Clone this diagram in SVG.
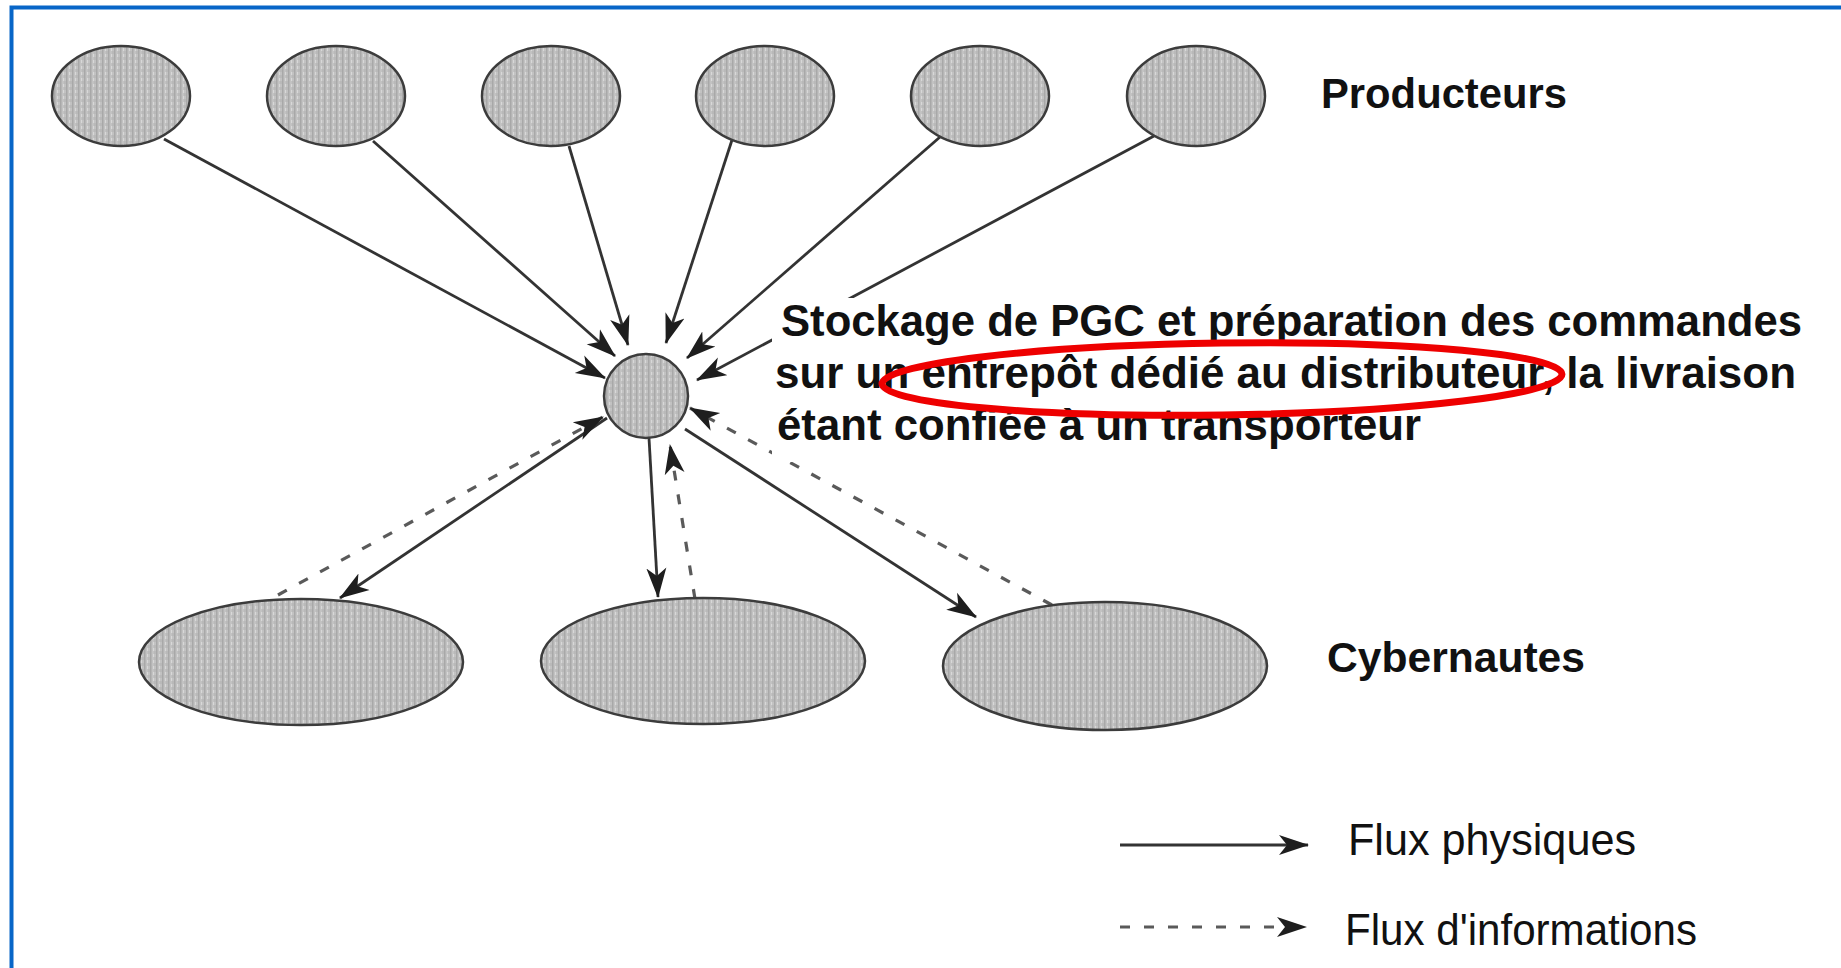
<svg xmlns="http://www.w3.org/2000/svg" width="1841" height="968" viewBox="0 0 1841 968">
  <defs>
    <pattern id="tex" width="6" height="6" patternUnits="userSpaceOnUse">
      <rect width="6" height="6" fill="#c2c2c2"/>
      <rect x="0" y="0" width="1.5" height="6" fill="#a8a8a8"/>
      <rect x="3" y="0" width="1" height="3" fill="#d8d8d8"/>
      <rect x="4.5" y="3" width="1" height="3" fill="#b0b0b0"/>
    </pattern>
    <marker id="arr" viewBox="0 0 30 22" markerWidth="30" markerHeight="22" refX="29" refY="11" orient="auto" markerUnits="userSpaceOnUse">
      <path d="M0,1 L30,11 L0,21 L8,11 Z" fill="#1e1e1e"/>
    </marker>
  </defs>
  <style>
    .node { fill: url(#tex); stroke: #3c3c3c; stroke-width: 2.5; }
    .phys { fill: none; stroke: #333; stroke-width: 2.8; marker-end: url(#arr); }
    .info { fill: none; stroke: #5a5a5a; stroke-width: 3.2; stroke-dasharray: 10 14; marker-end: url(#arr); }
    .lbl { font-family: "Liberation Sans", Arial, sans-serif; fill: #111; }
  </style>

  <rect width="1841" height="968" fill="#ffffff"/>
  <path d="M11.5,968 V7.5 H1841" fill="none" stroke="#0866c8" stroke-width="4"/>

  <g id="connectors">
    <line class="phys" x1="164" y1="139" x2="605" y2="378"/>
    <line class="phys" x1="373" y1="141" x2="615" y2="356"/>
    <line class="phys" x1="569" y1="146" x2="628" y2="345"/>
    <line class="phys" x1="732" y1="140" x2="666" y2="343"/>
    <line class="phys" x1="940" y1="137" x2="687" y2="358"/>
    <line class="phys" x1="1154" y1="136" x2="697" y2="380"/>

    <line class="phys" x1="607" y1="418" x2="340" y2="598"/>
    <line class="info" x1="278" y1="595" x2="603" y2="417"/>
    <line class="phys" x1="649" y1="438" x2="658" y2="597"/>
    <line class="info" x1="695" y1="599" x2="670" y2="445"/>
    <line class="phys" x1="685" y1="429" x2="976" y2="617"/>
    <line class="info" x1="1052" y1="605" x2="690" y2="408"/>

    <line class="phys" x1="1120" y1="845" x2="1308" y2="845"/>
    <line class="info" x1="1120" y1="927" x2="1306" y2="927"/>
  </g>

  <g id="producteur-1"><ellipse class="node" cx="121" cy="96" rx="69" ry="50"/></g>
  <g id="producteur-2"><ellipse class="node" cx="336" cy="96" rx="69" ry="50"/></g>
  <g id="producteur-3"><ellipse class="node" cx="551" cy="96" rx="69" ry="50"/></g>
  <g id="producteur-4"><ellipse class="node" cx="765" cy="96" rx="69" ry="50"/></g>
  <g id="producteur-5"><ellipse class="node" cx="980" cy="96" rx="69" ry="50"/></g>
  <g id="producteur-6"><ellipse class="node" cx="1196" cy="96" rx="69" ry="50"/></g>

  <g id="entrepot"><circle class="node" cx="646" cy="396" r="42"/></g>

  <g id="cybernaute-1"><ellipse class="node" cx="301" cy="662" rx="162" ry="63"/></g>
  <g id="cybernaute-2"><ellipse class="node" cx="703" cy="661" rx="162" ry="63"/></g>
  <g id="cybernaute-3"><ellipse class="node" cx="1105" cy="666" rx="162" ry="64"/></g>

  <g id="label-producteurs">
    <text class="lbl" x="1321" y="108" font-size="42" font-weight="bold" textLength="246" lengthAdjust="spacingAndGlyphs">Producteurs</text>
  </g>
  <g id="label-cybernautes">
    <text class="lbl" x="1327" y="672" font-size="42" font-weight="bold" textLength="258" lengthAdjust="spacingAndGlyphs">Cybernautes</text>
  </g>

  <g id="description">
    <rect x="772" y="298" width="1040" height="164" fill="#ffffff"/>
    <text class="lbl" x="781" y="336" font-size="44" font-weight="bold" textLength="1021" lengthAdjust="spacingAndGlyphs">Stockage de PGC et préparation des commandes</text>
    <text class="lbl" x="775" y="388" font-size="44" font-weight="bold" textLength="1021" lengthAdjust="spacingAndGlyphs">sur un entrepôt dédié au distributeur, la livraison</text>
    <text class="lbl" x="777" y="440" font-size="44" font-weight="bold" textLength="644" lengthAdjust="spacingAndGlyphs">étant confiée à un transporteur</text>
    <ellipse cx="1222" cy="379" rx="340" ry="36" transform="rotate(-0.8 1222 379)" fill="none" stroke="#ee0000" stroke-width="7"/>
  </g>

  <g id="legend">
    <text class="lbl" x="1348" y="855" font-size="44" textLength="288" lengthAdjust="spacingAndGlyphs">Flux physiques</text>
    <text class="lbl" x="1345" y="945" font-size="44" textLength="352" lengthAdjust="spacingAndGlyphs">Flux d'informations</text>
  </g>
</svg>
